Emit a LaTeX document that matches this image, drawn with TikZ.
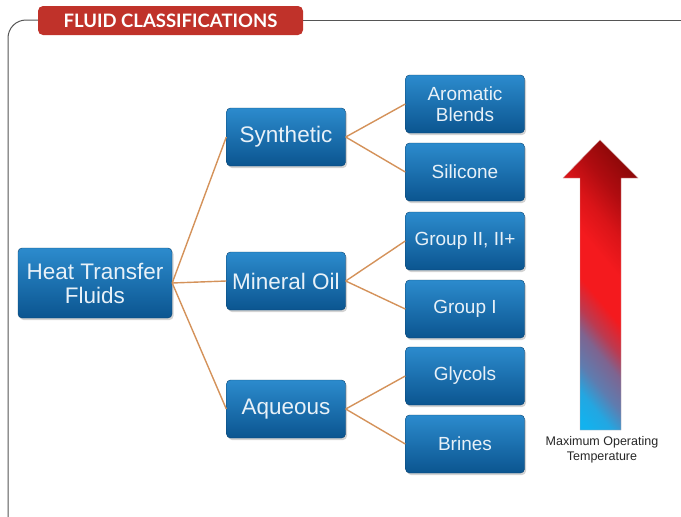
\documentclass[tikz,border=0pt]{standalone}
\usepackage{fontspec}
\setmainfont{Liberation Sans}
\newfontfamily\titlefont{Lato}
\usetikzlibrary{shadows}
\definecolor{titlered}{HTML}{C0322A}
\definecolor{boxtop}{HTML}{2C8BCD}
\definecolor{boxbot}{HTML}{0B5590}
\definecolor{conn}{HTML}{D4925A}
\definecolor{frameline}{HTML}{555555}
\definecolor{boxtext}{HTML}{E8F1F8}
\definecolor{tcyan}{HTML}{12B2EE}
\definecolor{tblue}{HTML}{4A8CC4}
\definecolor{tpurple}{HTML}{7E6490}
\definecolor{tpred}{HTML}{BC3A50}
\definecolor{tred}{HTML}{F41A1E}
\definecolor{tmred}{HTML}{DA1418}
\definecolor{tdred}{HTML}{B00C10}
\definecolor{tdark}{HTML}{8A0808}
\pgfdeclareverticalshading{tempgrad}{100bp}{%
  color(0bp)=(tcyan);
  color(33bp)=(tcyan);
  color(36bp)=(tcyan!70!tblue);
  color(39bp)=(tblue!60!tpurple);
  color(42.5bp)=(tpurple);
  color(45bp)=(tpred);
  color(48.3bp)=(tred);
  color(53.3bp)=(tred);
  color(57.5bp)=(tmred);
  color(61.7bp)=(tdred);
  color(66.7bp)=(tdark);
  color(100bp)=(tdark)}
\tikzset{
  fbox/.style={draw=boxbot!80!black, line width=0.4pt, rounded corners=4pt,
    top color=boxtop, bottom color=boxbot, text=boxtext,
    minimum width=119pt, minimum height=58pt, inner sep=0pt, align=center,
    drop shadow={shadow xshift=1.5pt, shadow yshift=-2pt, opacity=0.35}},
  mainbox/.style={fbox, font=\fontsize{22.5}{24}\selectfont},
  subbox/.style={fbox, font=\fontsize{19}{21}\selectfont},
  link/.style={draw=conn, line width=1.4pt},
}
\begin{document}
\begin{tikzpicture}[x=1pt,y=-1pt]
\useasboundingbox (0,0) rectangle (681,517);
% frame
\draw[frameline, line width=1pt, rounded corners=18pt] (40,20) -- (8,20) -- (8,517);
\draw[frameline, line width=1pt] (300,20) -- (681,20);
\node[fill=titlered, rounded corners=5pt, minimum width=265pt, minimum height=29pt, inner sep=0pt,
  text=white, font=\titlefont\bfseries\fontsize{18.5}{20}\selectfont] (title) at (170.5,20.5) {FLUID CLASSIFICATIONS};
% boxes
\node[mainbox, minimum width=154pt, minimum height=70pt] (htf) at (95,283) {Heat Transfer\\Fluids};
\node[mainbox] (syn) at (286,137) {Synthetic};
\node[mainbox] (min) at (286,281) {Mineral Oil};
\node[mainbox] (aq) at (286,409) {Aqueous};
\node[subbox] (aro) at (465,104) {Aromatic\\Blends};
\node[subbox] (sil) at (465,172) {Silicone};
\node[subbox] (g2) at (465,241) {Group II, II+};
\node[subbox] (g1) at (465,309) {Group I};
\node[subbox] (gly) at (465,376) {Glycols};
\node[subbox] (bri) at (465,444) {Brines};
% connectors
\draw[link] (htf.east) -- (syn.west);
\draw[link] (htf.east) -- (min.west);
\draw[link] (htf.east) -- (aq.west);
\draw[link] (syn.east) -- (aro.west);
\draw[link] (syn.east) -- (sil.west);
\draw[link] (min.east) -- (g2.west);
\draw[link] (min.east) -- (g1.west);
\draw[link] (aq.east) -- (gly.west);
\draw[link] (aq.east) -- (bri.west);
% temperature arrow
\coordinate (tip) at (600,140);
\begin{scope}
  \clip (580,430) -- (580,178) -- (563,178) -- (tip) -- (638,178) -- (621,178) -- (621,430) -- cycle;
  \shade[shading=tempgrad, shading angle=-50] (450,135) rectangle (750,435);
\end{scope}
\draw[draw=red!50!black!35, line width=0.4pt]
  (580,430) -- (580,178) -- (563,178) -- (tip) -- (638,178) -- (621,178) -- (621,430) -- cycle;
\node[font=\fontsize{12.5}{15.5}\selectfont, align=center, text=black!85] (lbl) at (602,450) {Maximum Operating\\Temperature};
\end{tikzpicture}
\end{document}
